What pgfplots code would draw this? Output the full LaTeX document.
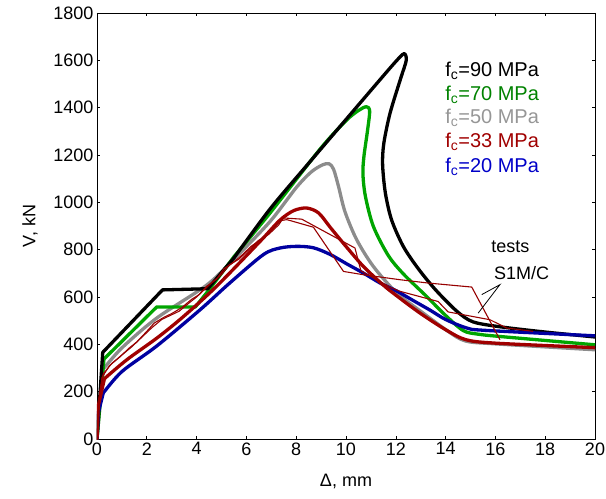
\documentclass[border=0pt]{standalone}
\usepackage{fontspec}
\setmainfont{Liberation Sans}
\usepackage{pgfplots}
\pgfplotsset{compat=1.18}

\definecolor{lgreen}{RGB}{0,165,0}
\definecolor{lgray}{RGB}{140,140,140}
\definecolor{lred}{RGB}{160,0,0}
\definecolor{lblue}{RGB}{0,0,160}
\definecolor{tgreen}{RGB}{0,130,0}
\definecolor{tgray}{RGB}{150,150,150}
\definecolor{tred}{RGB}{160,0,0}
\definecolor{tblue}{RGB}{0,0,200}
\definecolor{testred}{RGB}{150,0,0}

\begin{document}
\begin{tikzpicture}
\begin{axis}[
    scale only axis,
    width=498bp, height=426bp,
    xmin=0, xmax=20, ymin=0, ymax=1800,
    xtick={0,2,...,20}, ytick={0,200,...,1800},
    major tick length=3bp,
    tick style={black, line width=0.6bp},
    axis line style={black, line width=0.8bp},
    /pgf/number format/assume math mode=true,
    /pgf/number format/1000 sep={},
    ticklabel style={font=\fontsize{18bp}{20bp}\selectfont},
    label style={font=\fontsize{18bp}{20bp}\selectfont},
    xlabel={Δ, mm}, ylabel={V, kN},
    xlabel style={at={(axis description cs:0.5,-0.0986)}, anchor=center},
    ylabel style={at={(axis description cs:-0.1345,0.5)}, anchor=center},
    every axis plot/.append style={line join=round, line cap=round},
    thickline/.style={line width=3.3bp},
    curve/.style={smooth, tension=0.5},
]
\coordinate (O) at (rel axis cs:0,0);

% f_c = 50 MPa
\addplot[lgray, thickline] coordinates {(0,0) (0.25,295)};
\addplot[lgray, thickline, curve] coordinates {
(0.25,295) (1,385) (2.4,511) (4.4,650) (5.5,760) (6.95,919) (8.0,1062)
(8.6,1128) (9.05,1158) (9.32,1163) (9.5,1140) (9.7,1067) (9.96,960) (10.43,842)
(11.1,729) (12.04,617) (13.1,532) (14.1,455) (14.8,414) (16,402) (20,377)
};
% f_c = 70 MPa
\addplot[lgreen, thickline] coordinates {
(0,0) (0.28,338) (2.4,558) (3.95,558) (4.5,630) (5.5,770)
};
\addplot[lgreen, thickline, curve] coordinates {
(5.5,770) (6.95,955) (8.96,1225) (10.0,1345) (10.5,1388) (10.82,1404)
(10.95,1385) (10.86,1300) (10.72,1194) (10.68,1120) (10.78,1025) (11.1,898)
(11.7,775) (12.3,698) (13.24,602) (14.0,522) (14.71,458) (15.3,443) (16.2,433) (20,398)
};
% f_c = 90 MPa
\addplot[black, thickline] coordinates {
(0,0) (0.23,366) (2.63,630) (4.45,635) (5.5,765)
};
\addplot[black, thickline, curve] coordinates {
(5.5,765) (6.95,972) (8.5,1165) (10,1350) (11.3,1510) (12.0,1595)
(12.33,1628) (12.42,1600) (12.2,1525) (11.77,1377) (11.52,1250) (11.47,1160)
(11.58,1040) (11.83,926) (12.3,814) (12.9,720) (13.6,630) (14.45,540) (15.1,495)
(16.2,474) (18,452) (20,431)
};
% f_c = 20 MPa
\addplot[lblue, thickline] coordinates {(0,0) (0.05,110) (0.25,194)};
\addplot[lblue, thickline, curve] coordinates {
(0.25,194) (1,285) (2.4,393) (4.14,546) (5.34,660) (6.68,779)
(7.35,807) (8.02,814) (8.69,808) (9.36,780) (10.03,740) (10.7,701) (11.37,659)
(12.04,625) (12.7,585) (13.4,543) (14.0,505) (14.85,469) (15.6,459) (20,436)
};
% f_c = 33 MPa
\addplot[lred, thickline] coordinates {(0,0) (0.05,140) (0.3,255)};
\addplot[lred, thickline, curve] coordinates {
(0.3,255) (1.2,335) (2.45,430) (3.5,520) (4.8,645) (6.55,835)
(7.35,925) (7.9,965) (8.42,976) (8.9,955) (9.4,890) (10.03,810) (10.7,729)
(11.5,650) (12.1,600) (13.0,530) (14.0,462) (14.8,420) (16,405) (20,386)
};
% tests S1M and S1C
\addplot[testred, line width=1.1bp] coordinates {
(0,0) (0.08,170) (0.2,260) (0.5,310) (0.9,345) (1.3,385) (1.6,410) (2.0,455)
(2.3,490) (2.7,515) (3.0,530) (3.4,555) (3.8,590) (4.1,610) (4.4,645) (4.8,675)
(5.1,720) (5.4,740) (5.8,775) (6.2,815) (6.6,845) (7.0,880) (7.35,922) (7.62,927)
(8.69,895) (9.9,708) (10.7,694) (12.17,673) (13.3,659) (15.05,642) (16.18,420)
};
\addplot[testred, line width=1.1bp] coordinates {
(0,0) (0.1,190) (0.25,275) (0.6,320) (1.0,355) (1.4,390) (1.8,430) (2.2,470)
(2.6,505) (2.9,520) (3.3,540) (3.7,575) (4.0,600) (4.3,630) (4.6,660) (5.0,695)
(5.3,735) (5.7,760) (6.1,800) (6.5,840) (6.9,865) (7.3,905) (7.48,934) (8.22,929)
(10.36,807) (10.6,710) (11.8,640) (12.17,624) (13.7,581) (14.1,537) (15.78,504)
(16.45,469) (17.5,455)
};

\draw[black, line width=0.8bp] (axis cs:15.45,610) -- (axis cs:16.18,652) -- (axis cs:15.31,532);
\node[font=\fontsize{18bp}{20bp}\selectfont] at (axis cs:16.6,812) {tests};
\node[font=\fontsize{18bp}{20bp}\selectfont] at (axis cs:17.05,702) {S1M/C};

\begin{scope}[every node/.style={anchor=west, inner sep=0pt, font=\fontsize{20bp}{22bp}\selectfont}]
\node[text=black] at (axis cs:13.98,1557) {f\textsubscript{c}=90 MPa};
\node[text=tgreen] at (axis cs:13.98,1454) {f\textsubscript{c}=70 MPa};
\node[text=tgray] at (axis cs:13.98,1356) {f\textsubscript{c}=50 MPa};
\node[text=tred] at (axis cs:13.98,1254) {f\textsubscript{c}=33 MPa};
\node[text=tblue] at (axis cs:13.98,1151) {f\textsubscript{c}=20 MPa};
\end{scope}
\end{axis}
\pgfresetboundingbox
\path[use as bounding box] (O) ++(-97bp,-60bp) rectangle ++(606bp,499bp);
\end{tikzpicture}
\end{document}
